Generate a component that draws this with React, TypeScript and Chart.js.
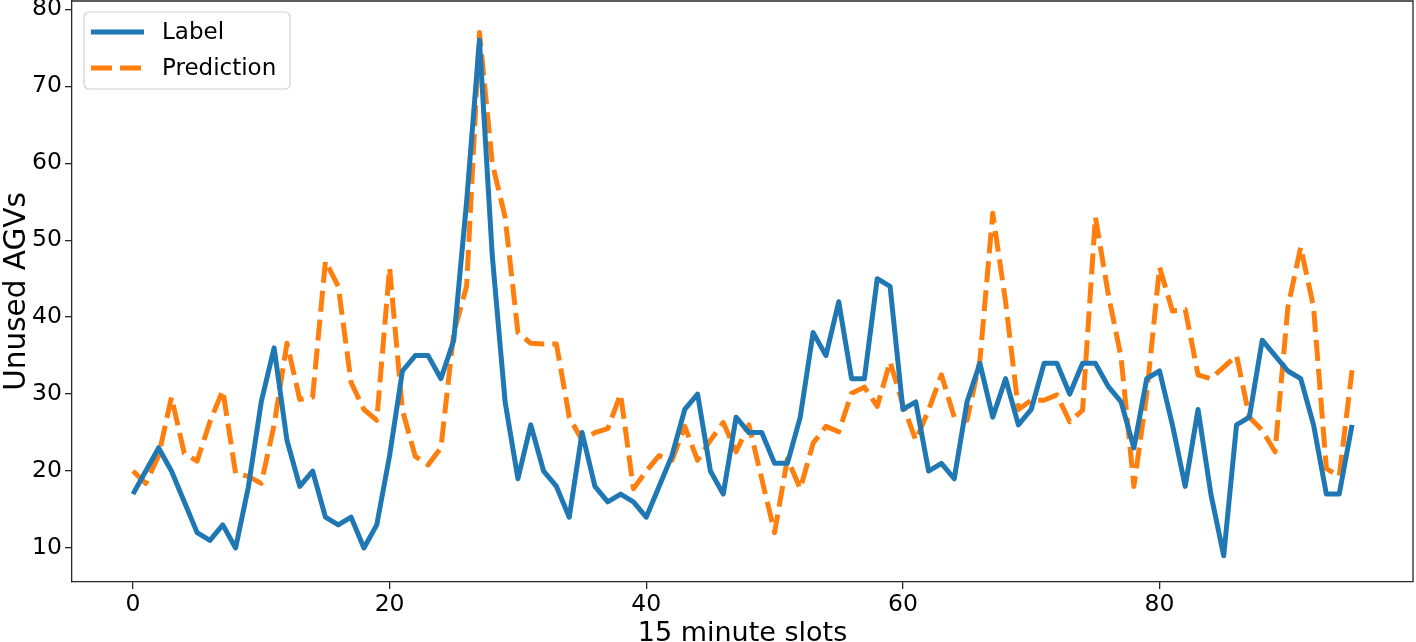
import React, { useEffect, useRef } from 'react';
import { Chart, registerables } from 'chart.js';

Chart.register(...registerables);

const labelValues: number[] = [
  17, 20, 23, 20, 16, 12, 11, 13, 10, 18,
  29, 36, 24, 18, 20, 14, 13, 14, 10, 13,
  22, 33, 35, 35, 32, 37, 55, 76, 48, 29,
  19, 26, 20, 18, 14, 25, 18, 16, 17, 16,
  14, 18, 22, 28, 30, 20, 17, 27, 25, 25,
  21, 21, 27, 38, 35, 42, 32, 32, 45, 44,
  28, 29, 20, 21, 19, 29, 34, 27, 32, 26,
  28, 34, 34, 30, 34, 34, 31, 29, 23, 32,
  33, 26, 18, 28, 17, 9, 26, 27, 37, 35,
  33, 32, 26, 17, 17, 26,
];

const predictionValues: number[] = [
  20, 18.4, 22, 29.6, 22.3, 21.3, 26.4, 30.5, 19.7, 19.3,
  18.4, 26, 36.6, 29.3, 29.6, 47.3, 44, 31.5, 28, 26.6,
  46.4, 27.9, 21.9, 20.8, 23, 38, 44, 77, 60, 53,
  38, 36.6, 36.5, 36.5, 27, 24, 25, 25.5, 30, 17.7,
  20, 22, 21.4, 25.8, 21.4, 24, 26.3, 22.5, 26, 19,
  12, 21.6, 17.7, 23.6, 25.8, 25.1, 30.1, 30.9, 28.4, 34.2,
  28.6, 24, 27.9, 32.5, 27, 26.6, 34.4, 53.5, 42, 28,
  29.2, 29.2, 29.9, 26.4, 27.9, 53, 43, 34.8, 18, 30,
  46.5, 40.8, 41, 32.5, 32, 33.5, 35, 27, 25.3, 22.5,
  41.3, 49.1, 41.3, 20.3, 19.3, 33.1,
];

const seriesNames: string[] = ['Label', 'Prediction'];
const seriesColors: string[] = ['#1f77b4', '#ff7f0e'];
const xTickValues: number[] = [0, 20, 40, 60, 80];
const yTickValues: number[] = [10, 20, 30, 40, 50, 60, 70, 80];
const xTitle = '15 minute slots';
const yTitle = 'Unused AGVs';

const FONT = "'DejaVu Sans', sans-serif";
const DASH = [21, 8];
const LINE_W = 5;
const SPINE = '#262626';

const spinePlugin = {
  id: 'spines',
  afterDraw(chart: any) {
    const { ctx, chartArea: a } = chart;
    ctx.save();
    ctx.strokeStyle = SPINE;
    ctx.lineWidth = 1.3;
    ctx.beginPath();
    ctx.moveTo(a.left, a.top);
    ctx.lineTo(a.right, a.top);
    ctx.lineTo(a.right, a.bottom);
    ctx.stroke();
    ctx.restore();
  },
};

const legendPlugin = {
  id: 'mplLegend',
  afterDraw(chart: any) {
    const { ctx, chartArea: a } = chart;
    const x = a.left + 12;
    const y = a.top + 11;
    const w = 206;
    const h = 77;
    const r = 5;
    ctx.save();
    ctx.beginPath();
    ctx.moveTo(x + r, y);
    ctx.lineTo(x + w - r, y);
    ctx.arcTo(x + w, y, x + w, y + r, r);
    ctx.lineTo(x + w, y + h - r);
    ctx.arcTo(x + w, y + h, x + w - r, y + h, r);
    ctx.lineTo(x + r, y + h);
    ctx.arcTo(x, y + h, x, y + h - r, r);
    ctx.lineTo(x, y + r);
    ctx.arcTo(x, y, x + r, y, r);
    ctx.closePath();
    ctx.fillStyle = 'rgba(255,255,255,0.8)';
    ctx.fill();
    ctx.strokeStyle = 'rgba(204,204,204,0.9)';
    ctx.lineWidth = 1.2;
    ctx.stroke();

    seriesNames.forEach((name, i) => {
      const cy = y + 20 + i * 36;
      ctx.beginPath();
      ctx.strokeStyle = seriesColors[i];
      ctx.lineWidth = LINE_W;
      ctx.lineCap = 'butt';
      ctx.setLineDash(i === 1 ? DASH : []);
      ctx.moveTo(x + 7, cy);
      ctx.lineTo(x + 60, cy);
      ctx.stroke();
      ctx.setLineDash([]);
      ctx.fillStyle = '#000';
      ctx.font = `23px ${FONT}`;
      ctx.textBaseline = 'middle';
      ctx.textAlign = 'left';
      ctx.fillText(name, x + 78, cy + 1);
    });
    ctx.restore();
  },
};

export default function App() {
  const canvasRef = useRef<HTMLCanvasElement | null>(null);

  useEffect(() => {
    const canvas = canvasRef.current;
    if (!canvas) return;
    const chart = new Chart(canvas, {
      type: 'line',
      data: {
        datasets: [
          {
            label: seriesNames[0],
            data: labelValues.map((v, i) => ({ x: i, y: v })),
            borderColor: seriesColors[0],
            borderWidth: LINE_W,
            pointRadius: 0,
            tension: 0,
            borderJoinStyle: 'round',
            borderCapStyle: 'butt',
            fill: false,
          },
          {
            label: seriesNames[1],
            data: predictionValues.map((v, i) => ({ x: i, y: v })),
            borderColor: seriesColors[1],
            borderWidth: LINE_W,
            borderDash: DASH,
            pointRadius: 0,
            tension: 0,
            borderJoinStyle: 'round',
            borderCapStyle: 'butt',
            fill: false,
          },
        ],
      },
      options: {
        animation: false,
        responsive: false,
        maintainAspectRatio: false,
        layout: { padding: { left: 0, right: 3, top: 1, bottom: 0 } },
        plugins: {
          legend: { display: false },
          tooltip: { enabled: false },
        },
        scales: {
          x: {
            type: 'linear',
            min: -4.75,
            max: 99.75,
            afterBuildTicks: (scale: any) => {
              scale.ticks = xTickValues.map((value) => ({ value }));
            },
            afterFit: (scale: any) => {
              scale.height = 78;
              scale.paddingLeft = 0;
              scale.paddingRight = 0;
            },
            grid: {
              display: true,
              drawOnChartArea: false,
              drawTicks: true,
              tickLength: 7,
              color: SPINE,
              lineWidth: 1.3,
            },
            border: { display: true, color: SPINE, width: 1.3 },
            ticks: {
              color: '#000',
              font: { family: FONT, size: 23.5 },
              padding: 2,
              maxRotation: 0,
              autoSkip: false,
              callback: (v: any) => String(v),
            },
            title: {
              display: true,
              text: xTitle,
              color: '#000',
              font: { family: FONT, size: 27 },
              padding: { top: 0, bottom: 10 },
            },
          },
          y: {
            type: 'linear',
            min: 5.58,
            max: 81.08,
            afterBuildTicks: (scale: any) => {
              scale.ticks = yTickValues.map((value) => ({ value }));
            },
            afterFit: (scale: any) => {
              scale.width = 72;
              scale.paddingTop = 0;
              scale.paddingBottom = 0;
            },
            grid: {
              display: true,
              drawOnChartArea: false,
              drawTicks: true,
              tickLength: 7,
              color: SPINE,
              lineWidth: 1.3,
            },
            border: { display: true, color: SPINE, width: 1.3 },
            ticks: {
              color: '#000',
              font: { family: FONT, size: 23.5 },
              padding: 3,
              autoSkip: false,
              callback: (v: any) => String(v),
            },
            title: {
              display: true,
              text: yTitle,
              color: '#000',
              font: { family: FONT, size: 29.5 },
              padding: { top: 0, bottom: 0 },
            },
          },
        },
      },
      plugins: [spinePlugin, legendPlugin],
    } as any);
    return () => chart.destroy();
  }, []);

  return (
    <div
      style={{
        position: 'fixed',
        left: 0,
        top: 0,
        width: 1416,
        height: 642,
        overflow: 'hidden',
        background: '#fff',
      }}
    >
      <canvas ref={canvasRef} width={1416} height={660} style={{ display: 'block' }} />
    </div>
  );
}
